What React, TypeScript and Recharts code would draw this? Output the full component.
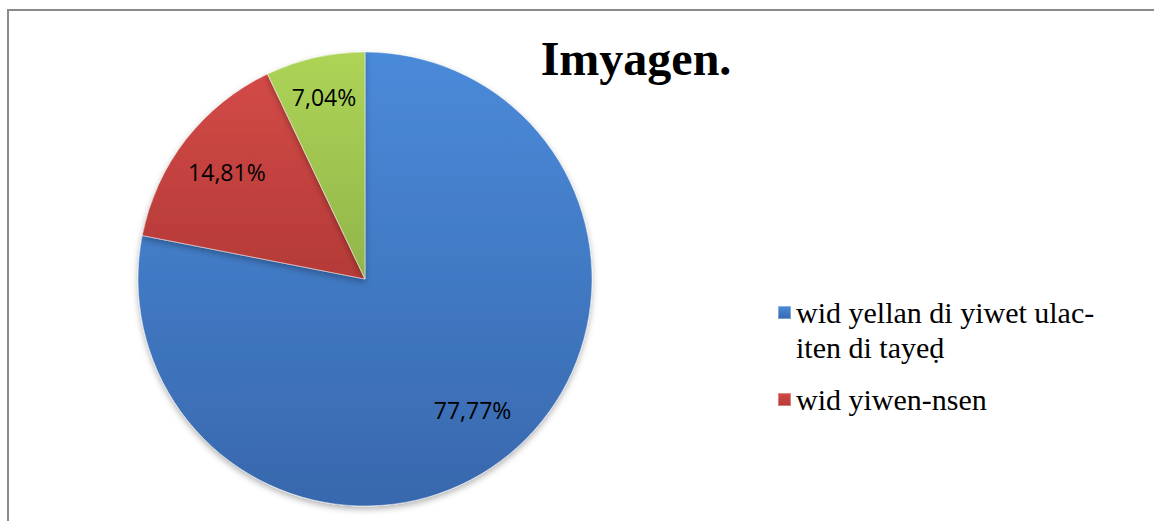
import React from 'react';
import { PieChart, Pie, Cell, Legend } from 'recharts';

const categories = ['wid yellan di yiwet ulac-iten di tayeḍ', 'wid yiwen-nsen', 'wid ur nesɛi ara'];
const values = [77.77, 14.81, 7.04];
const valueLabels = ['77,77%', '14,81%', '7,04%'];
const legendShown = 2;

const colorsTop = ['#4a8ad9', '#d24a47', '#add456'];
const colorsBottom = ['#3868ad', '#b43a37', '#92b54a'];
const labelRadius = [0.745, 0.77, 0.82];

const data = categories.map((name, i) => ({ name, value: values[i], label: valueLabels[i] }));

const RADIAN = Math.PI / 180;
const SERIF = "'Liberation Serif', 'Times New Roman', Times, serif";

const renderLabel = (props: any) => {
  const { cx, cy, midAngle, outerRadius, index } = props;
  const r = outerRadius * labelRadius[index];
  const x = cx + r * Math.cos(-midAngle * RADIAN);
  const y = cy + r * Math.sin(-midAngle * RADIAN);
  return (
    <text
      x={x}
      y={y}
      textAnchor="middle"
      dominantBaseline="central"
      fill="#000"
      fontFamily="'Open Sans', sans-serif"
      fontSize={23}
    >
      {data[index].label}
    </text>
  );
};

const renderLegend = () => {
  const items = data.slice(0, legendShown);
  return (
    <div style={{ width: 340, fontFamily: SERIF }}>
      {items.map((entry, i) => (
        <div key={i} style={{ display: 'flex', alignItems: 'flex-start', marginBottom: 17 }}>
          <div
            style={{
              width: 13,
              height: 13,
              marginTop: 11,
              marginRight: 5,
              flex: '0 0 auto',
              background: `linear-gradient(180deg, ${colorsTop[i]}, ${colorsBottom[i]})`,
              boxShadow: 'inset 0 0 0 1px rgba(255,255,255,0.35)',
            }}
          />
          <span
            style={{
              display: 'block',
              width: 312,
              fontFamily: SERIF,
              fontSize: 30,
              lineHeight: '35px',
              color: '#000',
            }}
          >
            {entry.name}
          </span>
        </div>
      ))}
    </div>
  );
};

export default function App() {
  return (
    <div style={{ position: 'absolute', left: 0, top: 0, width: 1154, height: 521, overflow: 'hidden', background: '#fff' }}>
      <div
        style={{
          position: 'absolute',
          left: 7,
          top: 9,
          width: 1300,
          height: 700,
          borderLeft: '2px solid #8a8a8a',
          borderTop: '2px solid #8a8a8a',
        }}
      />
      <div
        style={{
          position: 'absolute',
          left: 636,
          top: 35,
          transform: 'translateX(-50%)',
          fontFamily: SERIF,
          fontWeight: 'bold',
          fontSize: 48,
          lineHeight: '48px',
          whiteSpace: 'nowrap',
          color: '#000',
        }}
      >
        Imyagen.
      </div>
      <div style={{ position: 'absolute', left: 0, top: 0 }}>
        <PieChart width={1154} height={521} margin={{ top: 0, right: 0, bottom: 0, left: 0 }}>
          <defs>
            {colorsTop.map((c, i) => (
              <linearGradient key={i} id={`grad${i}`} x1="0" y1="0" x2="0" y2="1">
                <stop offset="0%" stopColor={c} />
                <stop offset="100%" stopColor={colorsBottom[i]} />
              </linearGradient>
            ))}
            <filter id="pieShadow" x="-10%" y="-10%" width="120%" height="125%">
              <feDropShadow dx="0" dy="3" stdDeviation="3" floodColor="#000" floodOpacity="0.3" />
            </filter>
          </defs>
          <Pie
            data={data}
            dataKey="value"
            nameKey="name"
            cx={365}
            cy={279}
            outerRadius={227}
            startAngle={90}
            endAngle={-270}
            stroke="rgba(255,255,255,0.45)"
            strokeWidth={1}
            label={renderLabel}
            labelLine={false}
            isAnimationActive={false}
            style={{ filter: 'url(#pieShadow)' }}
          >
            {data.map((_, i) => (
              <Cell key={i} fill={`url(#grad${i})`} />
            ))}
          </Pie>
          <Legend
            content={renderLegend}
            layout="vertical"
            wrapperStyle={{ position: 'absolute', left: 778, top: 295, width: 360 }}
          />
        </PieChart>
      </div>
    </div>
  );
}
